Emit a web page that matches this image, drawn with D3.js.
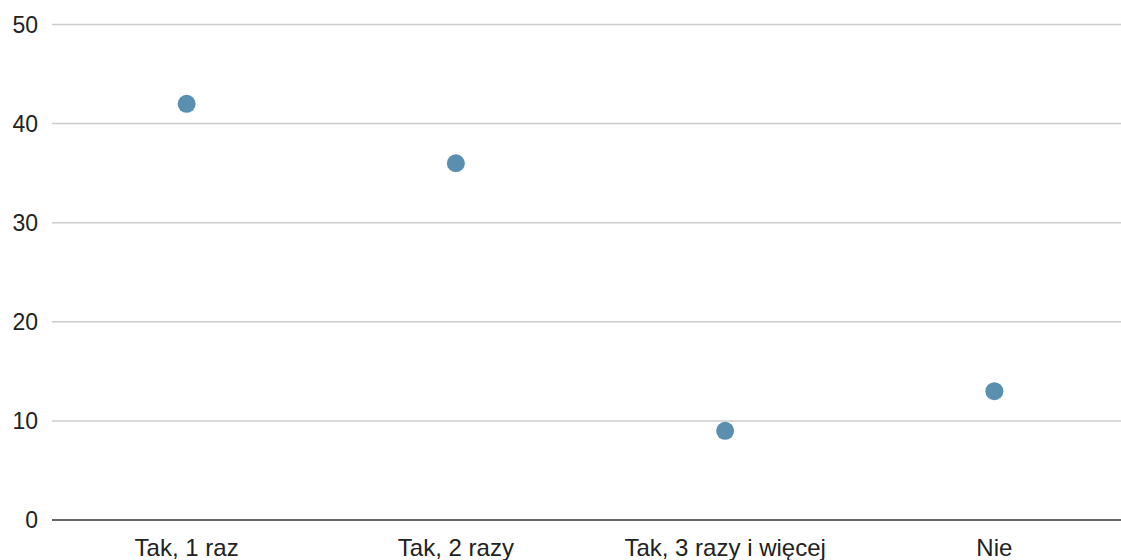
<!DOCTYPE html>
<html>
<head>
<meta charset="utf-8">
<script src="https://cdn.jsdelivr.net/npm/d3@7"></script>
<style>
  html, body { margin: 0; padding: 0; background: #fff; }
  svg { display: block; font-family: "Liberation Sans", Arial, sans-serif; }
</style>
</head>
<body>
<svg id="chart" width="1121" height="560"></svg>
<script>
const categories = ["Tak, 1 raz", "Tak, 2 razy", "Tak, 3 razy i więcej", "Nie"];
const values = [42, 36, 9, 13];
const yTicks = [0, 10, 20, 30, 40, 50];

const W = 1121, H = 560;
const margin = { left: 52, right: 1129, top: 24.5, bottom: 520 };

const svg = d3.select("#chart");

const x = d3.scaleBand().domain(categories).range([margin.left, margin.right]);
const y = d3.scaleLinear().domain([0, 50]).range([margin.bottom, margin.top]);

// horizontal gridlines
svg.append("g")
  .selectAll("line")
  .data(yTicks.filter(d => d !== 0))
  .join("line")
  .attr("x1", margin.left).attr("x2", W)
  .attr("y1", d => y(d)).attr("y2", d => y(d))
  .attr("stroke", "#cccccc")
  .attr("stroke-width", 1.5);

// y tick labels
svg.append("g")
  .selectAll("text")
  .data(yTicks)
  .join("text")
  .attr("x", 38)
  .attr("y", d => y(d))
  .attr("dy", "0.36em")
  .attr("text-anchor", "end")
  .attr("font-size", 23)
  .attr("fill", "#222")
  .text(d => d);

// baseline
svg.append("line")
  .attr("x1", margin.left).attr("x2", W)
  .attr("y1", y(0)).attr("y2", y(0))
  .attr("stroke", "#333")
  .attr("stroke-width", 1.5);

// category labels
svg.append("g")
  .selectAll("text")
  .data(categories)
  .join("text")
  .attr("x", d => x(d) + x.bandwidth() / 2)
  .attr("y", 556)
  .attr("text-anchor", "middle")
  .attr("font-size", 24)
  .attr("fill", "#222")
  .text(d => d);

// points
svg.append("g")
  .selectAll("circle")
  .data(categories.map((c, i) => ({ c, v: values[i] })))
  .join("circle")
  .attr("cx", d => x(d.c) + x.bandwidth() / 2)
  .attr("cy", d => y(d.v))
  .attr("r", 9)
  .attr("fill", "#5a8fb0");
</script>
</body>
</html>
